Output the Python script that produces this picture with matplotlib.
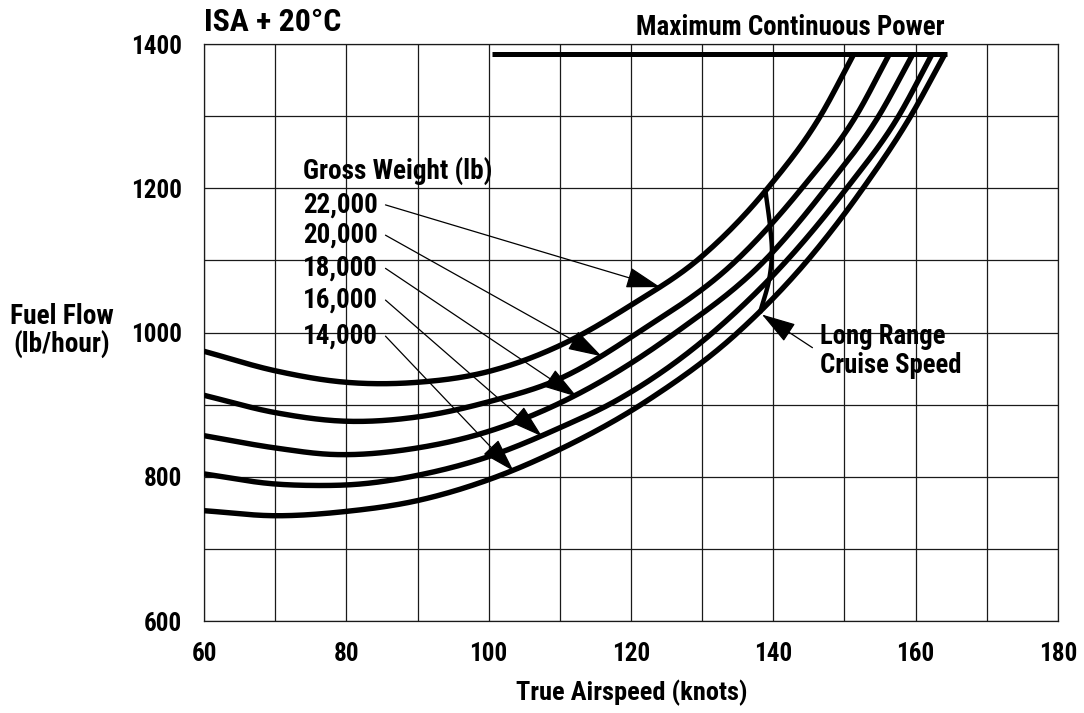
import numpy as np
import matplotlib.pyplot as plt

plt.rcParams['font.family'] = ['Roboto Condensed', 'Liberation Sans Narrow', 'DejaVu Sans Condensed',
                               'Roboto', 'DejaVu Sans']
plt.rcParams['font.weight'] = 'bold'

# fuel flow curves (knots, lb/hour)
weights = ['22,000', '20,000', '18,000', '16,000', '14,000']

speed_22k = [60, 70, 80, 90, 100, 110, 120, 130, 139.2, 146.6, 151.3]
flow_22k = [974, 947, 931, 931, 946, 982, 1038, 1106, 1200, 1300, 1386]

speed_20k = [60, 70, 80, 90, 100, 110, 121.0, 134.8, 144.0, 151.6, 156.3]
flow_20k = [913, 889, 877, 883, 904, 936, 1000, 1100, 1200, 1300, 1386]

speed_18k = [60, 70, 78, 90, 100, 112.4, 126.3, 138.8, 147.4, 154.8, 159.6]
flow_18k = [857, 840, 831, 840, 863, 914, 1000, 1100, 1200, 1300, 1386]

speed_16k = [60, 70, 75, 82, 90, 100, 110, 118, 131.5, 141.9, 150.3, 157.6, 162.3]
flow_16k = [804, 790, 788, 790, 802, 828, 868, 906, 1000, 1100, 1200, 1300, 1386]

speed_14k = [60, 70, 80, 90, 100, 110, 122.5, 135.0, 144.8, 152.6, 159.3, 164.1]
flow_14k = [753, 746, 752, 767, 796, 838, 907, 1000, 1100, 1200, 1300, 1386]

# max continuous power line
mcp_speed = [100.4, 164.4]
mcp_flow = [1386, 1386]

# long range cruise speed line (bottom to top)
lrc_flow = [1030, 1073, 1115, 1142, 1196]
lrc_speed = [138.2, 139.4, 139.8, 139.6, 138.9]

# label arrows: start next to the label, tip on the curve
arrow_start_speed = [85.5, 85.5, 85.5, 85.5, 85.5]
arrow_start_flow = [1177, 1135, 1089, 1045, 995]
arrow_tip_speed = [124.1, 115.9, 112.4, 107.5, 103.5]
arrow_tip_flow = [1063, 967, 911, 856, 808]


def smooth(x, y, n=30):
    # cubic hermite through the read points, for drawing only
    x = np.asarray(x, float)
    y = np.asarray(y, float)
    h = np.diff(x)
    d = np.diff(y) / h
    m = np.empty_like(y)
    m[0] = d[0]
    m[-1] = d[-1]
    m[1:-1] = (d[:-1] * h[1:] + d[1:] * h[:-1]) / (h[:-1] + h[1:])
    xs, ys = [], []
    for i in range(len(h)):
        t = np.linspace(0, 1, n, endpoint=(i == len(h) - 1))
        h00 = 2*t**3 - 3*t**2 + 1
        h10 = t**3 - 2*t**2 + t
        h01 = -2*t**3 + 3*t**2
        h11 = t**3 - t**2
        xs.append(x[i] + t*h[i])
        ys.append(h00*y[i] + h10*h[i]*m[i] + h01*y[i+1] + h11*h[i]*m[i+1])
    return np.concatenate(xs), np.concatenate(ys)


def fit_width(fig, txt, width_px):
    # scale the font so the text is as wide as in the reference
    r = fig.canvas.get_renderer()
    w = txt.get_window_extent(r).width
    txt.set_fontsize(txt.get_fontsize() * width_px / w)


fig = plt.figure(figsize=(10.84, 7.13), dpi=100)
ax = fig.add_axes([0.1882, 0.129, 0.7878, 0.8092])

# tick font size from the width of "1400"
probe = fig.text(0, 0, '1400', fontsize=20)
fit_width(fig, probe, 51)
tick_size = probe.get_fontsize()
probe.remove()

ax.set_xlim(60, 180)
ax.set_ylim(600, 1400)
ax.set_xticks(np.arange(60, 181, 10))
ax.set_xticklabels([str(v) if v % 20 == 0 else '' for v in range(60, 181, 10)])
ax.set_yticks(np.arange(600, 1401, 100))
ax.set_yticklabels([str(v) if v % 200 == 0 else '' for v in range(600, 1401, 100)])
ax.tick_params(length=0, labelsize=tick_size)
ax.tick_params(axis='y', pad=16)
ax.tick_params(axis='x', pad=15)
ax.grid(True, color='#1a1a1a', linewidth=0.9)
for s in ax.spines.values():
    s.set_linewidth(0.9)
    s.set_color('#1a1a1a')

curves = [(speed_22k, flow_22k), (speed_20k, flow_20k), (speed_18k, flow_18k),
          (speed_16k, flow_16k), (speed_14k, flow_14k)]
for sx, fy in curves:
    xs, ys = smooth(sx, fy)
    ax.plot(xs, ys, color='black', linewidth=3.9, solid_capstyle='butt', zorder=3)

ax.plot(mcp_speed, mcp_flow, color='black', linewidth=3.6, solid_capstyle='butt', zorder=3)

ly, lx = smooth(lrc_flow, lrc_speed, n=20)
ax.plot(lx, ly, color='black', linewidth=3.2, zorder=3)

arrow_kw = dict(arrowstyle='-|>,head_length=1.8,head_width=0.55', color='black', lw=0.9,
                mutation_scale=12, shrinkA=0, shrinkB=0)
texts = []
for i in range(len(weights)):
    ax.annotate('', xy=(arrow_tip_speed[i], arrow_tip_flow[i]),
                xytext=(arrow_start_speed[i], arrow_start_flow[i]),
                arrowprops=arrow_kw, zorder=4)
    t = ax.text(73.9, arrow_start_flow[i], weights[i], fontsize=18, ha='left', va='center', zorder=5)
    texts.append((t, 75))

t = ax.text(73.9, 1223, 'Gross Weight (lb)', fontsize=18, ha='left', va='center', zorder=5)
texts.append((t, 190))

ax.annotate('', xy=(138.4, 1025), xytext=(145.5, 979), arrowprops=arrow_kw, zorder=4)
t = ax.text(146.6, 975, 'Long Range\nCruise Speed', fontsize=18, ha='left', va='center',
            linespacing=1.1, zorder=5)
texts.append((t, 142))

t = ax.text(142.4, 1423, 'Maximum Continuous Power', fontsize=18, ha='center', va='center',
            clip_on=False)
texts.append((t, 308))
t = fig.text(204/1084, 1 - 22/713, 'ISA + 20°C', fontsize=22, ha='left', va='center')
texts.append((t, 137))

t = fig.text(62/1084, 1 - 331/713, 'Fuel Flow\n(lb/hour)', fontsize=16, ha='center',
             va='center', linespacing=1.05)
texts.append((t, 104))
t = fig.text(632/1084, 1 - 693/713, 'True Airspeed (knots)', fontsize=17, ha='center', va='center')
texts.append((t, 231))

for t, w in texts:
    fit_width(fig, t, w)

fig.savefig('out.png', dpi=100)
